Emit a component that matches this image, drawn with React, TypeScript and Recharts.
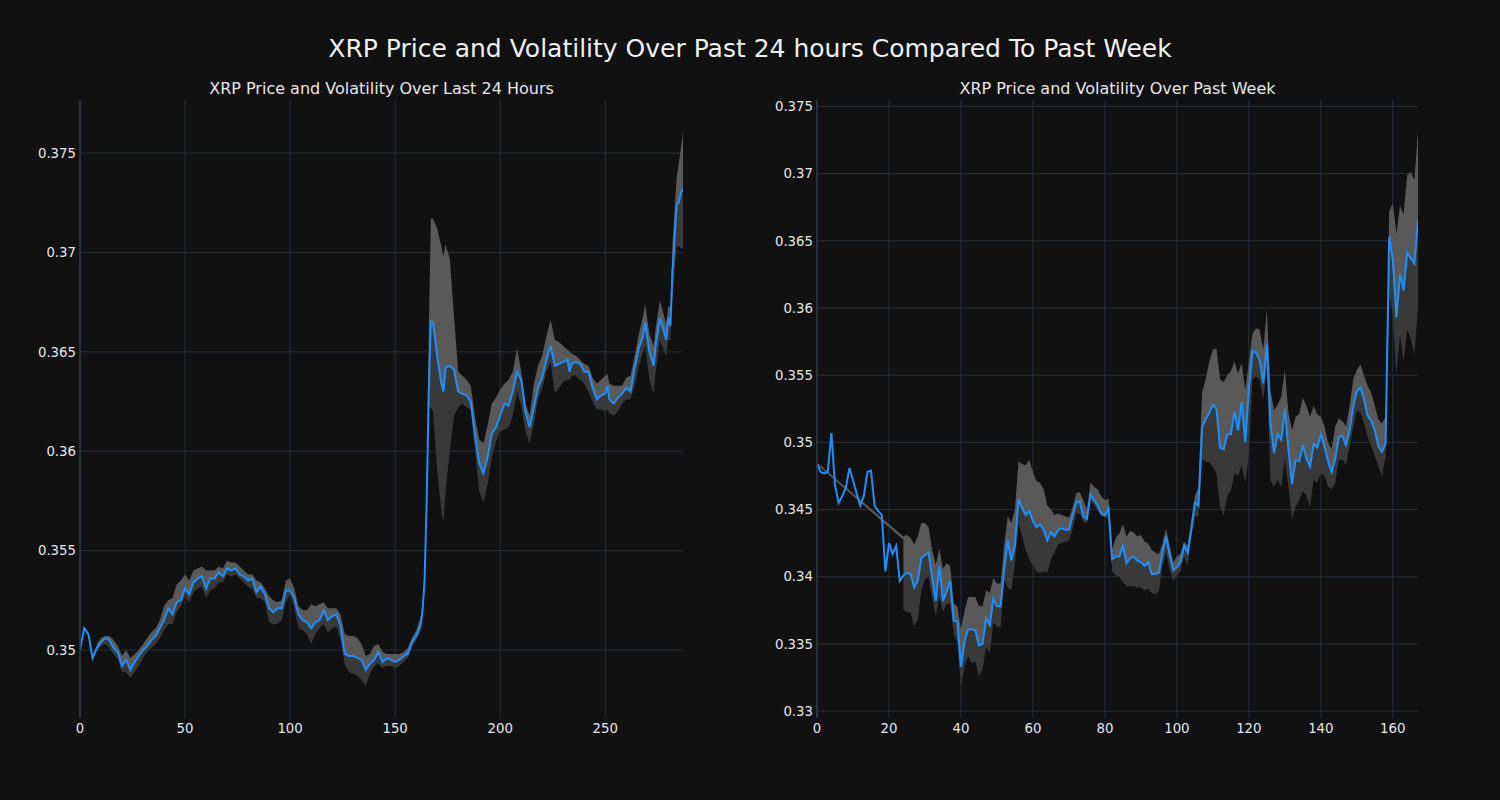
import { ComposedChart, Line, Area, XAxis, YAxis, CartesianGrid } from 'recharts'

const BG = '#111111'
const GRID = '#27303a'
const SPINE = '#2f3945'
const TEXT = '#e6e6e6'
const BLUE = '#1e8fff'
const BAND_HI = '#595959'
const BAND_LO = '#393939'
const FONT = '"DejaVu Sans", sans-serif'

// last 24 hours (5-min steps)
const dayX = [
  0, 2, 4, 6, 8, 10, 12, 14, 16, 18,
  20, 22, 24, 26, 28, 30, 32, 34, 36, 38,
  40, 42, 44, 46, 48, 50, 52, 54, 56, 58,
  60, 62, 64, 66, 68, 70, 72, 74, 76, 78,
  80, 82, 84, 86, 88, 90, 92, 94, 96, 98,
  100, 102, 104, 106, 108, 110, 112, 114, 116, 118,
  120, 122, 124, 126, 128, 130, 132, 134, 136, 138,
  140, 142, 144, 146, 148, 150, 152, 154, 156, 158,
  160, 162, 163, 164, 165, 166, 167, 168, 170, 172,
  173, 174, 176, 178, 180, 182, 184, 186, 188, 190,
  192, 194, 196, 198, 200, 202, 204, 206, 208, 210,
  212, 214, 216, 218, 220, 222, 224, 226, 228, 230,
  232, 233, 234, 236, 238, 240, 242, 244, 246, 248,
  250, 251, 252, 254, 256, 258, 260, 262, 264, 266,
  268, 269, 271, 273, 274, 276, 278, 279, 280, 281,
  282, 284, 285, 286, 287,
]
const dayPrice = [
  0.35, 0.3511, 0.3508, 0.3496, 0.3501, 0.3504, 0.3506, 0.3505, 0.3501, 0.3499,
  0.3492, 0.3495, 0.349, 0.3494, 0.3497, 0.35, 0.3502, 0.3505, 0.3507, 0.3511,
  0.3515, 0.3521, 0.3518, 0.3524, 0.3525, 0.3531, 0.3528, 0.3534, 0.3536, 0.3537,
  0.3531, 0.3536, 0.3536, 0.3539, 0.3537, 0.3541, 0.354, 0.3541, 0.3538, 0.3537,
  0.3535, 0.3536, 0.3529, 0.3532, 0.3528, 0.3521, 0.3519, 0.3521, 0.3521, 0.353,
  0.353, 0.3526, 0.3518, 0.3515, 0.3514, 0.3511, 0.3514, 0.3515, 0.352, 0.3515,
  0.3517, 0.3518, 0.3512, 0.3498, 0.3497, 0.3497, 0.3496, 0.3495, 0.349, 0.3493,
  0.3495, 0.3499, 0.3494, 0.3496, 0.3495, 0.3494, 0.3495, 0.3497, 0.3498, 0.3504,
  0.3507, 0.3512, 0.3519, 0.3535, 0.3575, 0.363, 0.3665, 0.3665, 0.3648, 0.3634,
  0.363, 0.3642, 0.3643, 0.3641, 0.363, 0.3629, 0.3628, 0.3625, 0.3608, 0.3594,
  0.3589, 0.3597, 0.3609, 0.3612, 0.3618, 0.3624, 0.3623, 0.363, 0.364, 0.3636,
  0.362, 0.3612, 0.3622, 0.3632, 0.3637, 0.3646, 0.3653, 0.3643, 0.3644, 0.3645,
  0.3646, 0.364, 0.3644, 0.3645, 0.3644, 0.364, 0.364, 0.3632, 0.3626, 0.3628,
  0.3629, 0.3633, 0.3626, 0.3624, 0.3627, 0.3629, 0.3632, 0.363, 0.3642, 0.3652,
  0.3658, 0.3665, 0.365, 0.3643, 0.3653, 0.3667, 0.366, 0.3656, 0.3667, 0.3663,
  0.369, 0.3724, 0.3725, 0.373, 0.3732,
]
const dayUpper = [
  null, null, null, null, 0.3503, 0.3506, 0.3507, 0.3507, 0.3505, 0.3502,
  0.3497, 0.35, 0.3496, 0.3498, 0.35, 0.3503, 0.3506, 0.3509, 0.3511, 0.3515,
  0.3522, 0.3525, 0.3526, 0.3533, 0.3535, 0.3538, 0.3535, 0.354, 0.3541, 0.3542,
  0.354, 0.354, 0.354, 0.3542, 0.3541, 0.3545, 0.3544, 0.3544, 0.3542, 0.354,
  0.3538, 0.3538, 0.3535, 0.3534, 0.3531, 0.3527, 0.3525, 0.3524, 0.3525, 0.3535,
  0.3536, 0.3531, 0.3522, 0.352, 0.352, 0.3523, 0.3522, 0.3523, 0.3524, 0.3521,
  0.3521, 0.3521, 0.3518, 0.3508, 0.3507, 0.3507, 0.3506, 0.3503, 0.3497, 0.3498,
  0.3502, 0.3503, 0.3499, 0.3498, 0.3498, 0.3498, 0.3498, 0.3499, 0.3501, 0.3506,
  0.351, 0.3516, 0.3523, 0.354, 0.3585, 0.366, 0.3717, 0.3717, 0.3712, 0.3703,
  0.3698, 0.3704, 0.3697, 0.3668, 0.364, 0.3638, 0.3636, 0.3633, 0.3617, 0.3606,
  0.3604, 0.3613, 0.3624, 0.3627, 0.3631, 0.3634, 0.3636, 0.364, 0.3652, 0.364,
  0.3624, 0.3618, 0.3634, 0.3643, 0.3648, 0.3658, 0.3666, 0.3656, 0.3655, 0.3653,
  0.3651, 0.365, 0.3649, 0.3648, 0.3646, 0.3644, 0.3643, 0.3637, 0.3634, 0.3636,
  0.3638, 0.3639, 0.3634, 0.3633, 0.3633, 0.3633, 0.3637, 0.3638, 0.3648, 0.3659,
  0.3668, 0.3674, 0.3659, 0.3653, 0.3662, 0.3676, 0.3668, 0.3664, 0.3673, 0.3672,
  0.3705, 0.3738, 0.3745, 0.3752, 0.3761,
]
const dayLower = [
  null, null, null, null, 0.3499, 0.3502, 0.3503, 0.3501, 0.3498, 0.3495,
  0.3489, 0.3489, 0.3486, 0.3489, 0.3492, 0.3496, 0.3499, 0.3501, 0.3503, 0.3506,
  0.351, 0.3513, 0.3513, 0.3519, 0.3522, 0.3527, 0.3524, 0.3529, 0.3531, 0.3532,
  0.3526, 0.353, 0.3531, 0.3534, 0.3534, 0.3538, 0.3537, 0.3538, 0.3536, 0.3534,
  0.3532, 0.3531, 0.3526, 0.3526, 0.3524, 0.3514, 0.3513, 0.3513, 0.3515, 0.3524,
  0.3528, 0.3521, 0.3511, 0.351, 0.3508, 0.3503, 0.3508, 0.3511, 0.3513, 0.3509,
  0.3511, 0.3512, 0.3505, 0.3493, 0.3489, 0.3488, 0.3487, 0.3485, 0.3482, 0.3488,
  0.3492, 0.3493, 0.3491, 0.3492, 0.3492, 0.3491, 0.3492, 0.3494, 0.3496, 0.3501,
  0.3505, 0.3509, 0.3516, 0.3532, 0.357, 0.3622, 0.3622, 0.362, 0.359, 0.357,
  0.3564, 0.358, 0.36, 0.3618, 0.3622, 0.3624, 0.3622, 0.3621, 0.36, 0.358,
  0.3574, 0.3583, 0.3597, 0.3605, 0.361, 0.3611, 0.3612, 0.3618, 0.363, 0.3623,
  0.361, 0.3604, 0.3614, 0.3626, 0.3632, 0.364, 0.3645, 0.3629, 0.3632, 0.3635,
  0.3636, 0.3636, 0.3638, 0.3638, 0.3636, 0.3634, 0.363, 0.3625, 0.3621, 0.3621,
  0.362, 0.3621, 0.3619, 0.3618, 0.362, 0.3624, 0.3626, 0.3626, 0.3633, 0.3643,
  0.365, 0.3653, 0.3636, 0.3629, 0.364, 0.3656, 0.365, 0.3648, 0.3656, 0.3656,
  0.368, 0.3703, 0.3703, 0.3702, 0.3702,
]

// past week (hourly)
const weekPrice = [
  0.3484, 0.3478, 0.3477, 0.3478, 0.3507, 0.3468, 0.3455, 0.346, 0.3466, 0.3481,
  0.3472, 0.3462, 0.3453, 0.346, 0.3478, 0.3479, 0.3453, 0.3449, 0.3446, 0.3404,
  0.3425, 0.3417, 0.3423, 0.3397, 0.3401, 0.3403, 0.3402, 0.3392, 0.3397, 0.3414,
  0.3416, 0.3418, 0.3399, 0.3382, 0.3408, 0.3382, 0.3389, 0.3397, 0.3367, 0.3367,
  0.3333, 0.3352, 0.3361, 0.3361, 0.336, 0.3349, 0.335, 0.3369, 0.3364, 0.3384,
  0.3378, 0.3378, 0.3405, 0.3427, 0.3412, 0.3424, 0.3458, 0.3451, 0.3446, 0.3449,
  0.3441, 0.3437, 0.3439, 0.3435, 0.3427, 0.3433, 0.343, 0.3435, 0.3436, 0.3435,
  0.3435, 0.3445, 0.3455, 0.3456, 0.3445, 0.3443, 0.3461, 0.3457, 0.3453, 0.3447,
  0.3446, 0.3451, 0.3413, 0.3415, 0.3415, 0.3423, 0.341, 0.3414, 0.3415, 0.3412,
  0.3411, 0.3408, 0.3411, 0.3402, 0.3402, 0.3403, 0.3418, 0.343, 0.3416, 0.3405,
  0.3407, 0.3411, 0.3423, 0.3418, 0.3435, 0.3455, 0.3453, 0.3511, 0.3517, 0.3522,
  0.3528, 0.3525, 0.3496, 0.3495, 0.3506, 0.3506, 0.3523, 0.3509, 0.353, 0.35,
  0.3539, 0.3568, 0.3567, 0.3561, 0.3544, 0.3573, 0.3514, 0.3492, 0.3506, 0.3502,
  0.3525, 0.3495, 0.3469, 0.3487, 0.3486, 0.3498, 0.3488, 0.3482, 0.3499, 0.3496,
  0.3506, 0.3497, 0.3486, 0.3478, 0.3488, 0.3504, 0.3505, 0.3498, 0.3509, 0.3527,
  0.3538, 0.3541, 0.3532, 0.352, 0.3516, 0.3509, 0.3497, 0.3493, 0.3499, 0.3653,
  0.3636, 0.3593, 0.3625, 0.3613, 0.3641, 0.3637, 0.3633, 0.3666,
]
const weekUpper = [
  null, null, null, null, null, null, null, null, null, null,
  null, null, null, null, null, null, null, null, null, null,
  null, null, null, null, 0.343, 0.3431, 0.3429, 0.3424, 0.343, 0.344,
  0.344, 0.3437, 0.342, 0.3409, 0.3421, 0.3406, 0.341, 0.3408, 0.338, 0.3378,
  0.3361, 0.3375, 0.3385, 0.3385, 0.3385, 0.3378, 0.3378, 0.339, 0.3388, 0.3399,
  0.3395, 0.3395, 0.3423, 0.3445, 0.344, 0.345, 0.3486, 0.3484, 0.3483, 0.3487,
  0.3478, 0.3471, 0.347, 0.3465, 0.3453, 0.345, 0.3446, 0.3447, 0.3446, 0.3445,
  0.3444, 0.3451, 0.3462, 0.3463, 0.3457, 0.345, 0.347, 0.3467, 0.3465, 0.346,
  0.3457, 0.3458, 0.342, 0.3429, 0.3432, 0.3439, 0.343, 0.3434, 0.3433, 0.343,
  0.3431, 0.3426, 0.3425, 0.342, 0.3418, 0.3417, 0.3425, 0.3436, 0.3423, 0.3411,
  0.3415, 0.3417, 0.3426, 0.3423, 0.3441, 0.346, 0.3467, 0.3537, 0.3547, 0.356,
  0.3569, 0.357, 0.3547, 0.3545, 0.355, 0.3553, 0.356, 0.3551, 0.3559, 0.3539,
  0.356, 0.3581, 0.3585, 0.3584, 0.3569, 0.3599, 0.3539, 0.3524, 0.3528, 0.3534,
  0.3554, 0.3522, 0.3509, 0.3519, 0.3521, 0.3533, 0.3527, 0.3519, 0.3527, 0.3521,
  0.3519, 0.3512, 0.35, 0.3495, 0.3512, 0.3518, 0.3516, 0.3512, 0.3527, 0.3547,
  0.3554, 0.3558, 0.355, 0.3542, 0.3537, 0.3527, 0.3517, 0.3514, 0.3519, 0.3672,
  0.3678, 0.3655, 0.3676, 0.367, 0.3699, 0.3701, 0.3695, 0.3732,
]
const weekLower = [
  null, null, null, null, null, null, null, null, null, null,
  null, null, null, null, null, null, null, null, null, null,
  null, null, null, null, 0.3375, 0.3374, 0.3373, 0.3363, 0.3368, 0.339,
  0.3398, 0.34, 0.3384, 0.3371, 0.3385, 0.3374, 0.338, 0.338, 0.3358, 0.3351,
  0.3319, 0.3333, 0.3341, 0.3336, 0.3337, 0.3326, 0.3331, 0.3348, 0.3343, 0.3366,
  0.3363, 0.3362, 0.3398, 0.3392, 0.339, 0.341, 0.344, 0.343, 0.342, 0.3413,
  0.3408, 0.3404, 0.3403, 0.3404, 0.3403, 0.3413, 0.3418, 0.3424, 0.3425, 0.3426,
  0.3427, 0.3435, 0.3447, 0.3447, 0.3441, 0.344, 0.3457, 0.3453, 0.3449, 0.3445,
  0.3444, 0.3444, 0.3404, 0.3401, 0.34, 0.3396, 0.3393, 0.3393, 0.3393, 0.3392,
  0.3392, 0.339, 0.3391, 0.3388, 0.3387, 0.3389, 0.3408, 0.3418, 0.3405, 0.3397,
  0.3401, 0.3404, 0.3415, 0.3409, 0.343, 0.3445, 0.3445, 0.3487, 0.3486, 0.3485,
  0.3482, 0.3477, 0.3452, 0.3446, 0.346, 0.3464, 0.3477, 0.3475, 0.3483, 0.347,
  0.3492, 0.3547, 0.3549, 0.3547, 0.3532, 0.3554, 0.3472, 0.3467, 0.3472, 0.3467,
  0.3487, 0.3467, 0.3443, 0.3452, 0.3457, 0.3464, 0.346, 0.3452, 0.3472, 0.347,
  0.3477, 0.3475, 0.3467, 0.3465, 0.347, 0.3487, 0.3487, 0.3483, 0.3497, 0.3512,
  0.3524, 0.3522, 0.3514, 0.3504, 0.3497, 0.349, 0.3482, 0.3475, 0.349, 0.361,
  0.3595, 0.355, 0.358, 0.356, 0.3584, 0.3577, 0.3565, 0.36,
]
const weekX = weekPrice.map((_, i) => i)

// thin sliver drawn before the rolling window fills up
const stripX = [0, 24]
const stripLow = [0.34835, 0.34275]
const stripHigh = [0.3485, 0.343]

const dayTicksX = [0, 50, 100, 150, 200, 250]
const dayTicksY = [0.35, 0.355, 0.36, 0.365, 0.37, 0.375]
const weekTicksX = [0, 20, 40, 60, 80, 100, 120, 140, 160]
const weekTicksY = [0.33, 0.335, 0.34, 0.345, 0.35, 0.355, 0.36, 0.365, 0.37, 0.375]

type Num = number | null

function buildRows(
  xs: number[],
  price: number[],
  upper: Num[],
  lower: Num[],
  sx: number[] = [],
  sLo: number[] = [],
  sHi: number[] = []
) {
  return xs.map((x, i) => {
    const u = upper[i]
    const l = lower[i]
    const s = sx.indexOf(x)
    return {
      x,
      price: price[i],
      hi: u == null ? null : [price[i], u],
      lo: l == null ? null : [l, price[i]],
      strip: s >= 0 ? [sLo[s], sHi[s]] : null,
    }
  })
}

const dayRows = buildRows(dayX, dayPrice, dayUpper, dayLower)
const weekRows = buildRows(weekX, weekPrice, weekUpper, weekLower, stripX, stripLow, stripHigh)

const CH_W = 700
const CH_H = 800
const TOP = 100
const BOTTOM = 52
const X_AXIS_H = 30
const PLOT_H = CH_H - TOP - BOTTOM - X_AXIS_H

interface PanelProps {
  rows: ReturnType<typeof buildRows>
  left: number
  yWidth: number
  right: number
  xMax: number
  yDomain: [number, number]
  ticksX: number[]
  ticksY: number[]
  withStrip?: boolean
}

function Panel({ rows, left, yWidth, right, xMax, yDomain, ticksX, ticksY, withStrip }: PanelProps) {
  const tick = { fill: TEXT, fontSize: 13.3, fontFamily: FONT }
  const plotW = CH_W - yWidth - right
  // grid only at tick positions (no frame around the plot)
  const hPoints = ticksY.map((t) => TOP + ((yDomain[1] - t) / (yDomain[1] - yDomain[0])) * PLOT_H)
  const vPoints = ticksX.map((t) => yWidth + (t / xMax) * plotW)
  return (
    <div style={{ position: 'absolute', left, top: 0 }}>
      <ComposedChart
        width={CH_W}
        height={CH_H}
        data={rows}
        margin={{ top: TOP, right, bottom: BOTTOM, left: 0 }}
      >
        <CartesianGrid
          stroke={GRID}
          strokeWidth={1}
          horizontalPoints={hPoints}
          verticalPoints={vPoints}
        />
        <XAxis
          type="number"
          dataKey="x"
          domain={[0, xMax]}
          ticks={ticksX}
          allowDataOverflow
          height={X_AXIS_H}
          tick={tick}
          tickLine={false}
          axisLine={false}
          tickSize={0}
          tickMargin={6}
        />
        <YAxis
          type="number"
          domain={yDomain}
          ticks={ticksY}
          allowDataOverflow
          width={yWidth}
          tick={tick}
          tickLine={false}
          axisLine={{ stroke: SPINE, strokeWidth: 1.5 }}
          tickSize={0}
          tickMargin={4}
        />
        {withStrip && (
          <Area
            dataKey="strip"
            stroke="none"
            fill={BAND_HI}
            fillOpacity={1}
            connectNulls
            isAnimationActive={false}
          />
        )}
        <Area dataKey="hi" stroke="none" fill={BAND_HI} fillOpacity={1} isAnimationActive={false} />
        <Area dataKey="lo" stroke="none" fill={BAND_LO} fillOpacity={1} isAnimationActive={false} />
        <Line
          dataKey="price"
          stroke={BLUE}
          strokeWidth={2}
          dot={false}
          activeDot={false}
          isAnimationActive={false}
        />
      </ComposedChart>
    </div>
  )
}

export default function App() {
  return (
    <div
      style={{
        position: 'absolute',
        left: 0,
        top: 0,
        width: 1500,
        height: 800,
        background: BG,
        fontFamily: FONT,
        color: TEXT,
        overflow: 'hidden',
      }}
    >
      <Panel
        rows={dayRows}
        left={0}
        yWidth={80}
        right={17}
        xMax={287}
        yDomain={[0.34658, 0.37767]}
        ticksX={dayTicksX}
        ticksY={dayTicksY}
      />
      <Panel
        rows={weekRows}
        left={740}
        yWidth={77}
        right={22}
        xMax={167}
        yDomain={[0.32949, 0.37548]}
        ticksX={weekTicksX}
        ticksY={weekTicksY}
        withStrip
      />
      <div
        style={{
          position: 'absolute',
          top: 34,
          left: 0,
          width: 1500,
          textAlign: 'center',
          fontSize: 25,
          lineHeight: '30px',
          color: '#f0f0f0',
        }}
      >
        XRP Price and Volatility Over Past 24 hours Compared To Past Week
      </div>
      <div
        style={{
          position: 'absolute',
          top: 79,
          left: 80,
          width: 603,
          textAlign: 'center',
          fontSize: 16,
          lineHeight: '20px',
        }}
      >
        XRP Price and Volatility Over Last 24 Hours
      </div>
      <div
        style={{
          position: 'absolute',
          top: 79,
          left: 817,
          width: 601,
          textAlign: 'center',
          fontSize: 16,
          lineHeight: '20px',
        }}
      >
        XRP Price and Volatility Over Past Week
      </div>
    </div>
  )
}
